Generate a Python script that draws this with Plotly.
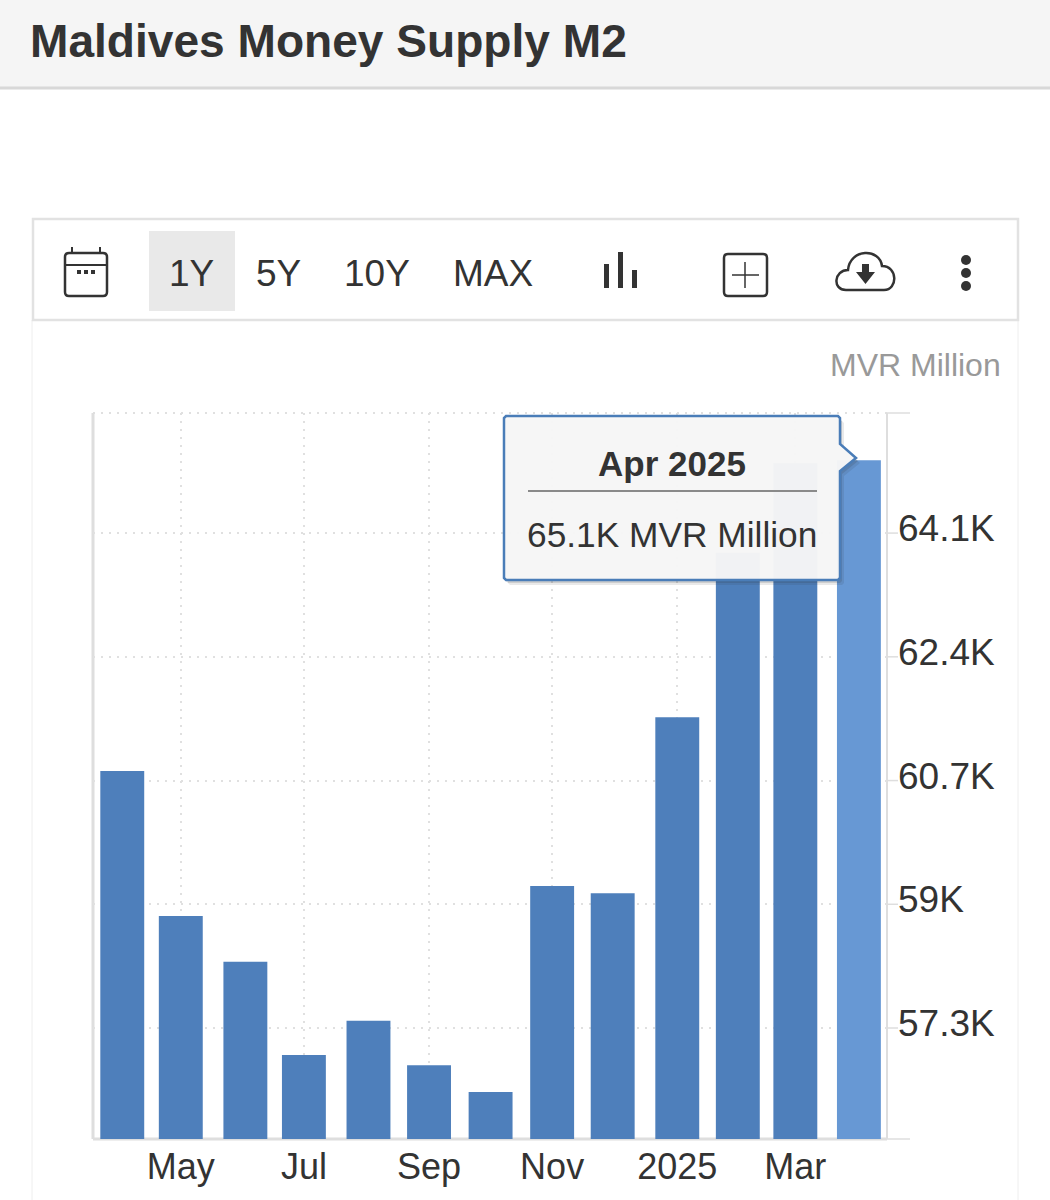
import plotly.graph_objects as go

months = ['2024-04-01', '2024-04-30', '2024-06-01', '2024-06-30', '2024-08-01', '2024-08-31', '2024-09-30 12:00',
          '2024-10-31', '2024-11-30', '2025-01-01', '2025-01-31', '2025-02-28 12:00', '2025-04-01']
m2_values = [60830, 58840, 58210, 56930, 57400, 56790, 56420, 59250, 59150, 61570, 63830, 65060, 65100]
tick_dates = ['2024-04-30', '2024-06-30', '2024-08-31', '2024-10-31', '2025-01-01', '2025-02-28 12:00']
tick_labels = ['May', 'Jul', 'Sep', 'Nov', '2025', 'Mar']
y_ticks = [57300, 59000, 60700, 62400, 64100]
y_tick_labels = ['57.3K', '59K', '60.7K', '62.4K', '64.1K']

FONT = 'Liberation Sans'
DARK = '#333333'
BAR = '#4e7fbb'
BAR_LAST = '#6798d4'
GRID = '#e0e0e0'
EDGE = '#dedede'

W, H = 1050, 1200
L, R, T, B = 93, 887, 413, 1139


def px(x):
    return (x - L) / (R - L)


def py(y):
    return (B - y) / (B - T)


def path(points, close=True):
    d = 'M ' + ' L '.join(f'{px(x):.5f},{py(y):.5f}' for x, y in points)
    return d + (' Z' if close else '')


def round_box(x0, y0, x1, y1, r):
    pts = [(x0 + r, y0), (x1 - r, y0), (x1, y0, x1, y0 + r), (x1, y1 - r), (x1, y1, x1 - r, y1),
           (x0 + r, y1), (x0, y1, x0, y1 - r), (x0, y0 + r), (x0, y0, x0 + r, y0)]
    d = f'M {px(pts[0][0]):.5f},{py(pts[0][1]):.5f}'
    for p in pts[1:]:
        if len(p) == 2:
            d += f' L {px(p[0]):.5f},{py(p[1]):.5f}'
        else:
            d += f' Q {px(p[0]):.5f},{py(p[1]):.5f} {px(p[2]):.5f},{py(p[3]):.5f}'
    return d + ' Z'


shapes = []


def rect(x0, y0, x1, y1, fill=None, line=None, width=0, layer='below'):
    shapes.append(dict(type='rect', xref='paper', yref='paper', x0=px(x0), x1=px(x1), y0=py(y0), y1=py(y1),
                       fillcolor=fill, line=dict(color=line, width=width), layer=layer))


def seg(x0, y0, x1, y1, color=DARK, width=2, layer='below', dash='solid'):
    shapes.append(dict(type='line', xref='paper', yref='paper', x0=px(x0), x1=px(x1), y0=py(y0), y1=py(y1),
                       line=dict(color=color, width=width, dash=dash), layer=layer))


def dot(cx, cy, r, fill=DARK):
    shapes.append(dict(type='circle', xref='paper', yref='paper', x0=px(cx - r), x1=px(cx + r), y0=py(cy - r),
                       y1=py(cy + r), fillcolor=fill, line=dict(width=0), layer='below'))


def outline(d, width=2.5):
    shapes.append(dict(type='path', xref='paper', yref='paper', path=d, line=dict(color=DARK, width=width), layer='below'))


def label(x, y, text, size, color=DARK, anchor='center', bold=False):
    return dict(xref='paper', yref='paper', x=px(x), y=py(y), text=f'<b>{text}</b>' if bold else text,
                showarrow=False, xanchor=anchor, yanchor='middle',
                font=dict(family=FONT, size=size, color=color))


# header band
rect(0, 0, W, 87, fill='#f5f5f5')
seg(0, 88, W, 88, color='#d8d8d8', width=3)

# card + toolbar
seg(32, 320, 32, 1200, color='#eeeeee', width=1)
seg(1018, 320, 1018, 1200, color='#eeeeee', width=1)
rect(33, 219, 1018, 320, fill='white', line='#e2e2e2', width=2.5)
rect(149, 231, 235, 311, fill='#e9e9e9')

# calendar icon
outline(round_box(65, 253, 107, 296, 4))
seg(65, 265, 107, 265, width=2)
seg(72, 247, 72, 253)
seg(100, 247, 100, 253)
for cx in (79, 86, 93):
    rect(cx - 2, 270, cx + 2, 274, fill=DARK)

# bar chart icon
rect(604, 264, 609, 288, fill=DARK)
rect(618, 252, 623, 288, fill=DARK)
rect(632, 270, 637, 288, fill=DARK)

# add box icon
outline(round_box(724, 254, 767, 296, 4))
seg(745, 262, 745, 288, width=1.5)
seg(732, 275, 759, 275, width=1.5)

# cloud icon
cloud = (f'M {px(846):.5f},{py(290):.5f} C {px(832):.5f},{py(290):.5f} {px(834):.5f},{py(270):.5f} {px(848):.5f},{py(270):.5f} '
         f'C {px(850):.5f},{py(248):.5f} {px(880):.5f},{py(248):.5f} {px(882):.5f},{py(266):.5f} '
         f'C {px(898):.5f},{py(266):.5f} {px(898):.5f},{py(290):.5f} {px(884):.5f},{py(290):.5f} Z')
outline(cloud)
shapes.append(dict(type='path', xref='paper', yref='paper', line=dict(width=0), fillcolor=DARK, layer='below',
                   path=path([(862, 264), (869, 264), (869, 272), (875, 272), (865.5, 284), (856, 272), (862, 272)])))

# menu dots
for cy in (260, 273, 286):
    dot(966, cy, 5)

# plot frame, extended past the axis on the right
seg(L, T, R, T, color=GRID, width=2, dash='2px,6px')
seg(R, T, 910, T, color=EDGE, width=1.5)
seg(R, B, 910, B, color=EDGE, width=1.5)
seg(R, T, R, B, color=EDGE, width=2)
seg(L, T, L, B, color=EDGE, width=3)
seg(L, B, R, B, color=EDGE, width=3)

# short y ticks running into the labels
for v in y_ticks:
    shapes.append(dict(type='line', xref='paper', yref='y', x0=1, x1=px(898), y0=v, y1=v,
                       line=dict(color=EDGE, width=1.5), layer='below'))

# tooltip
tip = [(506, 416), (838, 416), (840, 418), (840, 444), (856, 458), (840, 471), (840, 578), (838, 580), (506, 580), (504, 578), (504, 418)]
shapes.append(dict(type='path', xref='paper', yref='paper', layer='above', line=dict(width=0),
                   fillcolor='rgba(40,40,40,0.10)', path=path([(x + 4, y + 5) for x, y in tip])))
shapes.append(dict(type='path', xref='paper', yref='paper', layer='above', line=dict(width=0),
                   fillcolor='rgba(40,40,40,0.14)', path=path([(x + 2, y + 3) for x, y in tip])))
shapes.append(dict(type='path', xref='paper', yref='paper', layer='above', line=dict(color='#4a7db8', width=2.5),
                   fillcolor='rgba(247,247,247,0.97)', path=path(tip)))
seg(528, 491, 817, 491, color='#8a8a8a', width=2, layer='above')

annotations = [
    label(28, 41, 'Maldives Money Supply M2', 46.1, anchor='left', bold=True),
    label(191, 273, '1Y', 37),
    label(278, 273, '5Y', 37),
    label(377, 273, '10Y', 37),
    label(493, 273, 'MAX', 37),
    label(1003, 365, 'MVR Million', 32, color='#999999', anchor='right'),
    label(672, 463, 'Apr 2025', 35, bold=True),
    label(672, 534, '65.1K MVR Million', 35.3),
]

fig = go.Figure(go.Bar(
    x=months,
    y=m2_values,
    width=1.88e9,
    marker=dict(color=[BAR] * (len(months) - 1) + [BAR_LAST], line=dict(width=0)),
    hoverinfo='skip'
))

fig.update_layout(
    width=W,
    height=H,
    margin=dict(l=L, r=W - R, t=T, b=H - B, pad=0),
    paper_bgcolor='white',
    plot_bgcolor='white',
    showlegend=False,
    shapes=shapes,
    annotations=annotations,
    xaxis=dict(
        type='date',
        range=['2024-03-17 12:00', '2025-04-14 22:00'],
        tickmode='array',
        tickvals=tick_dates,
        ticktext=tick_labels,
        showgrid=True,
        gridcolor=GRID,
        griddash='2px,6px',
        gridwidth=2,
        ticks='',
        ticklabelstandoff=3,
        showline=False,
        zeroline=False,
        tickfont=dict(family=FONT, size=36, color=DARK),
    ),
    yaxis=dict(
        side='right',
        range=[55775, 65750],
        tickmode='array',
        tickvals=y_ticks,
        ticktext=y_tick_labels,
        showgrid=True,
        gridcolor=GRID,
        griddash='2px,6px',
        gridwidth=2,
        ticks='',
        ticklabelstandoff=10,
        ticklabelshift=-5,
        showline=False,
        zeroline=False,
        tickfont=dict(family=FONT, size=37, color=DARK),
    ),
)

fig.write_html("out.html", config=dict(displayModeBar=False),
               post_script="document.body.style.margin='0';document.body.style.overflow='hidden';")
